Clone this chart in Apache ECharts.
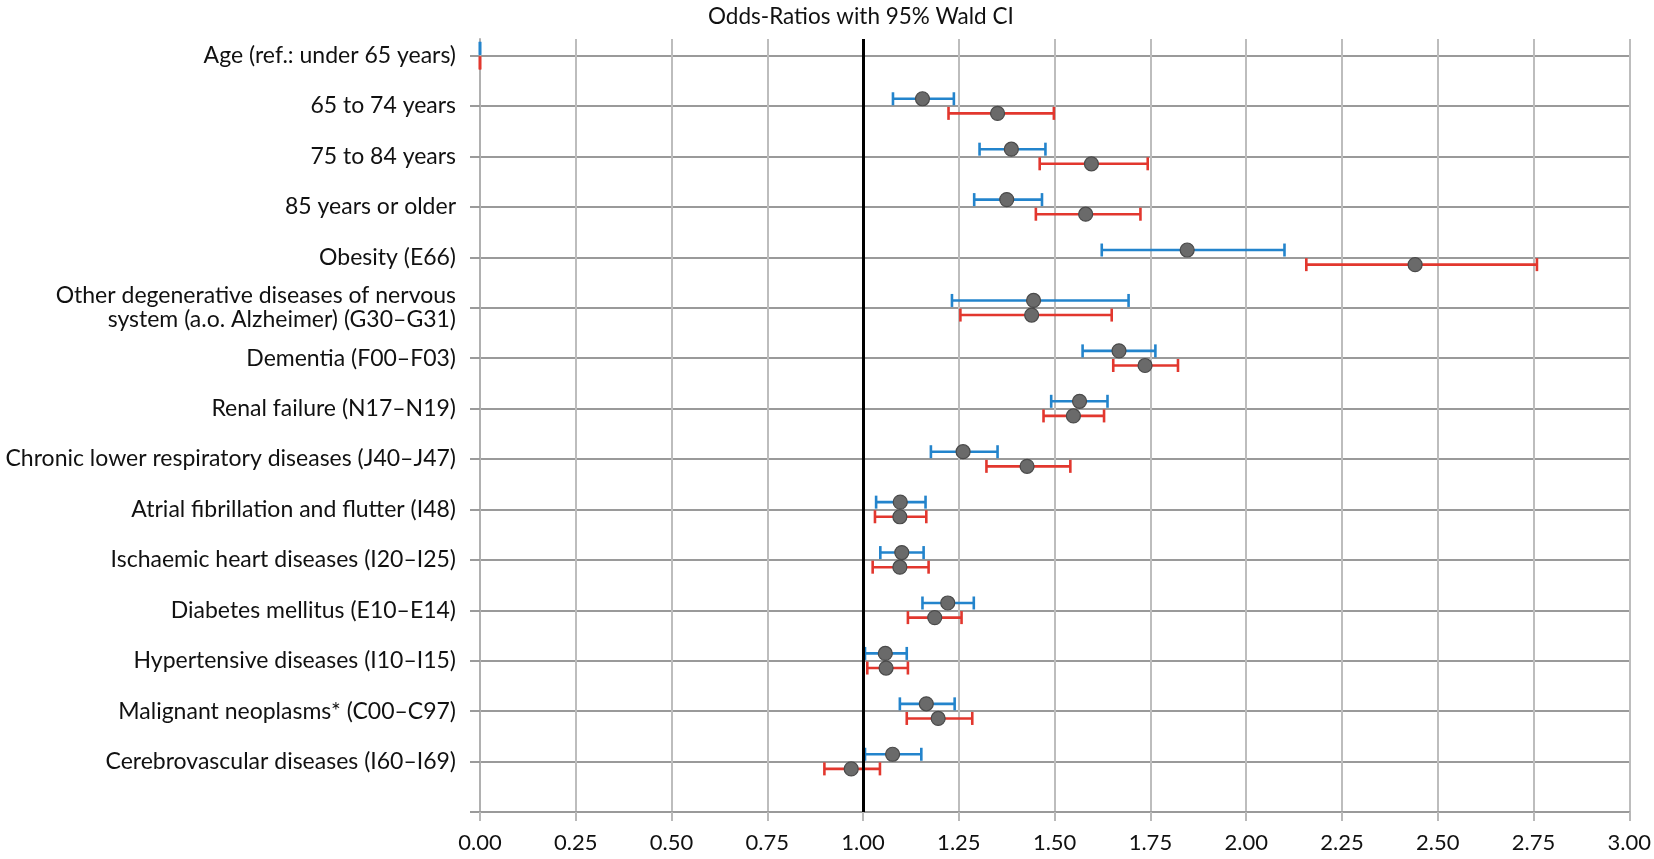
<!DOCTYPE html>
<html>
<head>
<meta charset="utf-8">
<script src="https://cdn.jsdelivr.net/npm/echarts@6/dist/echarts.min.js"></script>
<style>
html,body{margin:0;padding:0;background:#fff;}
#chart{width:1654px;height:859px;}
</style>
</head>
<body>
<div id="chart"></div>
<script>
const categories = [
  'Age (ref.: under 65 years)',
  '65 to 74 years',
  '75 to 84 years',
  '85 years or older',
  'Obesity (E66)',
  'Other degenerative diseases of nervous\nsystem (a.o. Alzheimer) (G30–G31)',
  'Dementia (F00–F03)',
  'Renal failure (N17–N19)',
  'Chronic lower respiratory diseases (J40–J47)',
  'Atrial fibrillation and flutter (I48)',
  'Ischaemic heart diseases (I20–I25)',
  'Diabetes mellitus (E10–E14)',
  'Hypertensive diseases (I10–I15)',
  'Malignant neoplasms* (C00–C97)',
  'Cerebrovascular diseases (I60–I69)'
];
const blueOR   = [null, 1.155, 1.387, 1.375, 1.846, 1.445, 1.668, 1.565, 1.261, 1.097, 1.101, 1.221, 1.058, 1.165, 1.077];
const blueLow  = [0,    1.078, 1.304, 1.290, 1.623, 1.232, 1.573, 1.491, 1.177, 1.034, 1.045, 1.155, 1.005, 1.096, 1.005];
const blueHigh = [0,    1.237, 1.476, 1.467, 2.100, 1.693, 1.763, 1.638, 1.351, 1.163, 1.158, 1.289, 1.114, 1.239, 1.152];
const redOR    = [null, 1.351, 1.596, 1.581, 2.441, 1.440, 1.736, 1.549, 1.428, 1.096, 1.096, 1.187, 1.060, 1.196, 0.969];
const redLow   = [0,    1.223, 1.461, 1.451, 2.157, 1.254, 1.653, 1.471, 1.322, 1.031, 1.025, 1.117, 1.011, 1.114, 0.899];
const redHigh  = [0,    1.498, 1.743, 1.724, 2.759, 1.649, 1.822, 1.629, 1.541, 1.165, 1.171, 1.257, 1.117, 1.285, 1.044];
const xTicks = [0, 0.25, 0.5, 0.75, 1, 1.25, 1.5, 1.75, 2, 2.25, 2.5, 2.75, 3];
const refLine = 1;

const N = categories.length;
const OFF = 0.145;
const FONT = 'Lato';
const BLUE = '#2384cc';
const RED = '#e2372e';

function rowY(i) { return N - i; }

function barData(low, high, sign) {
  return low.map((l, i) => [l, high[i], rowY(i) + sign * OFF]);
}
function pointData(or, sign) {
  const out = [];
  or.forEach((v, i) => { if (v !== null) out.push([v, rowY(i) + sign * OFF]); });
  return out;
}
function errRender(color) {
  return function (params, api) {
    const y = api.value(2);
    const p1 = api.coord([api.value(0), y]);
    const p2 = api.coord([api.value(1), y]);
    const cap = 6.5;
    const st = { stroke: color, lineWidth: 2.6 };
    return {
      type: 'group',
      children: [
        { type: 'line', shape: { x1: p1[0], y1: p1[1], x2: p2[0], y2: p2[1] }, style: st },
        { type: 'line', shape: { x1: p1[0], y1: p1[1] - cap, x2: p1[0], y2: p1[1] + cap }, style: st },
        { type: 'line', shape: { x1: p2[0], y1: p2[1] - cap, x2: p2[0], y2: p2[1] + cap }, style: st }
      ]
    };
  };
}

const chart = echarts.init(document.getElementById('chart'), null, { renderer: 'canvas' });
chart.setOption({
  animation: false,
  backgroundColor: '#fff',
  title: {
    text: 'Odds-Ratios with 95% Wald CI',
    left: 703, top: 0,
    textStyle: { fontFamily: FONT, fontSize: 22.5, fontWeight: 'normal', color: '#111' }
  },
  grid: { left: 480, right: 21, top: 39, bottom: 47, containLabel: false },
  xAxis: {
    type: 'value', min: 0, max: 3, interval: 0.25,
    axisLine: { show: true, lineStyle: { color: '#9a9a9a', width: 2 } },
    axisTick: { show: true, length: 9, lineStyle: { color: '#b8b8b8', width: 2 } },
    axisLabel: {
      margin: 20, fontFamily: FONT, fontSize: 22, color: '#111',
      formatter: v => xTicks.includes(v) ? v.toFixed(2) : ''
    },
    splitLine: { show: true, lineStyle: { color: '#bdbdbd', width: 2 } }
  },
  yAxis: {
    type: 'value', min: 0, max: 15.33, interval: 1,
    axisLine: { show: true, lineStyle: { color: '#b0b0b0', width: 2 } },
    axisTick: { show: true, length: 10, lineStyle: { color: '#9a9a9a', width: 2 } },
    axisLabel: {
      margin: 24, fontFamily: FONT, fontSize: 23, color: '#111', lineHeight: 24,
      showMaxLabel: false,
      formatter: v => {
        const i = N - v;
        return (Number.isInteger(v) && i >= 0 && i < N) ? categories[i] : '';
      }
    },
    splitLine: { show: true, showMaxLine: false, lineStyle: { color: '#9a9a9a', width: 2 } }
  },
  series: [
    {
      type: 'custom', name: 'blue', renderItem: errRender(BLUE),
      data: barData(blueLow, blueHigh, 1), z: 3,
      encode: { x: [0, 1], y: 2 },
      markLine: {
        silent: true, symbol: 'none', label: { show: false },
        lineStyle: { color: '#000', width: 3, type: 'solid' },
        data: [{ xAxis: refLine }]
      }
    },
    {
      type: 'custom', name: 'red', renderItem: errRender(RED),
      data: barData(redLow, redHigh, -1), z: 3,
      encode: { x: [0, 1], y: 2 }
    },
    {
      type: 'scatter', name: 'bluePt', data: pointData(blueOR, 1), z: 5,
      symbol: 'circle', symbolSize: 14,
      itemStyle: { color: '#6a6a6a', borderColor: '#4a4a4a', borderWidth: 1.2, opacity: 1 }
    },
    {
      type: 'scatter', name: 'redPt', data: pointData(redOR, -1), z: 5,
      symbol: 'circle', symbolSize: 14,
      itemStyle: { color: '#6a6a6a', borderColor: '#4a4a4a', borderWidth: 1.2, opacity: 1 }
    }
  ]
});
</script>
</body>
</html>
